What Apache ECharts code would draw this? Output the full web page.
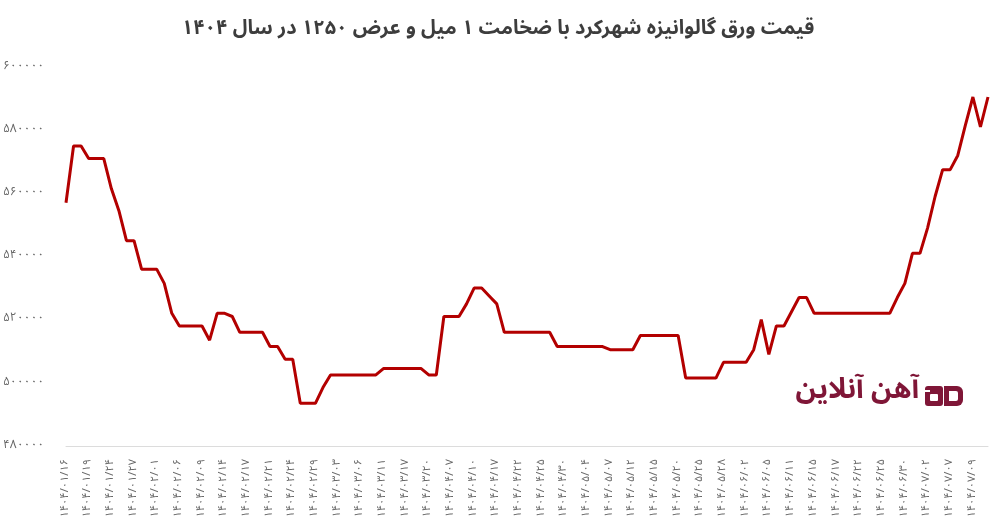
<!DOCTYPE html>
<html>
<head>
<meta charset="utf-8">
<script src="https://cdn.jsdelivr.net/npm/echarts@6/dist/echarts.min.js"></script>
<style>html,body{margin:0;padding:0;background:#fff}#c{width:996px;height:524px}</style>
</head>
<body>
<div id="c"></div>
<script>
const titleText = 'قیمت ورق گالوانیزه شهرکرد با ضخامت ۱ میل و عرض ۱۲۵۰ در سال ۱۴۰۴';
const brandText = 'آهن آنلاین';

const dates = [
'1404/01/16','1404/01/17','1404/01/18','1404/01/19','1404/01/20','1404/01/23',
'1404/01/24','1404/01/25','1404/01/26','1404/01/27','1404/01/30','1404/01/31',
'1404/02/01','1404/02/02','1404/02/03','1404/02/06','1404/02/07','1404/02/08',
'1404/02/09','1404/02/10','1404/02/13','1404/02/14','1404/02/15','1404/02/16',
'1404/02/17','1404/02/18','1404/02/20','1404/02/21','1404/02/22','1404/02/23',
'1404/02/24','1404/02/27','1404/02/28','1404/02/29','1404/02/30','1404/02/31',
'1404/03/03','1404/03/04','1404/03/05','1404/03/06','1404/03/07','1404/03/10',
'1404/03/11','1404/03/12','1404/03/13','1404/03/17','1404/03/18','1404/03/19',
'1404/03/20','1404/03/21','1404/04/01','1404/04/07','1404/04/08','1404/04/09',
'1404/04/10','1404/04/11','1404/04/16','1404/04/17','1404/04/18','1404/04/21',
'1404/04/22','1404/04/23','1404/04/24','1404/04/25','1404/04/28','1404/04/29',
'1404/04/30','1404/04/31','1404/05/01','1404/05/04','1404/05/05','1404/05/06',
'1404/05/07','1404/05/08','1404/05/11','1404/05/12','1404/05/13','1404/05/14',
'1404/05/15','1404/05/18','1404/05/19','1404/05/20','1404/05/21','1404/05/22',
'1404/05/25','1404/05/26','1404/05/27','1404/05/28','1404/05/29','1404/06/01',
'1404/06/02','1404/06/03','1404/06/04','1404/06/05','1404/06/08','1404/06/09',
'1404/06/11','1404/06/12','1404/06/13','1404/06/15','1404/06/16','1404/06/16',
'1404/06/17','1404/06/18','1404/06/19','1404/06/22','1404/06/23','1404/06/24',
'1404/06/25','1404/06/26','1404/06/29','1404/06/30','1404/06/31','1404/07/01',
'1404/07/02','1404/07/05','1404/07/06','1404/07/07','1404/07/08','1404/07/08',
'1404/07/09','1404/07/12','1404/07/13'
];

const prices = [
557000,575000,575000,571000,571000,571000,
561500,554500,545000,545000,536000,536000,
536000,531500,522000,518000,518000,518000,
518000,513500,522000,522000,521000,516000,
516000,516000,516000,511500,511500,507500,
507500,493500,493500,493500,498500,502500,
502500,502500,502500,502500,502500,502500,
504500,504500,504500,504500,504500,504500,
502500,502500,521000,521000,521000,525000,
530000,530000,527500,525000,516000,516000,
516000,516000,516000,516000,516000,511500,
511500,511500,511500,511500,511500,511500,
510500,510500,510500,510500,515000,515000,
515000,515000,515000,515000,501500,501500,
501500,501500,501500,506500,506500,506500,
506500,510500,520000,509000,518000,518000,
522500,527000,527000,522000,522000,522000,
522000,522000,522000,522000,522000,522000,
522000,522000,527000,531500,541000,541000,
549000,559000,567500,567500,572000,581500,
590500,581000,590500
];

const yMin = 480000, yMax = 600000, yStep = 20000;

function toFa(s){ return String(s).replace(/[0-9]/g, d => '۰۱۲۳۴۵۶۷۸۹'[d]); }

const FONT = '"Noto Sans Arabic", "DejaVu Sans", sans-serif';
const brandColor = '#7f1637';

const chart = echarts.init(document.getElementById('c'), null, {renderer:'canvas'});
chart.setOption({
  animation: false,
  backgroundColor: '#fff',
  title: {
    text: titleText, left: 'center', top: 16,
    textStyle: {fontFamily: FONT, fontSize: 20, fontWeight: 'bold', color: '#3d3d3d'}
  },
  grid: {left: 66, right: 8, top: 67, bottom: 78, containLabel: false},
  xAxis: {
    type: 'category', data: dates, boundaryGap: false,
    axisLine: {show: true, lineStyle: {color: '#dcdcdc', width: 1}},
    axisTick: {show: false},
    axisLabel: {interval: 2, rotate: 90, margin: 13, fontSize: 11, color: '#666',
      fontFamily: FONT, formatter: v => toFa(v)},
    splitLine: {show: false}
  },
  yAxis: {
    type: 'value', min: yMin, max: yMax, interval: yStep,
    axisLine: {show: false}, axisTick: {show: false},
    splitLine: {show: false},
    axisLabel: {fontSize: 12, color: '#666', fontFamily: FONT, margin: 63,
      align: 'left', formatter: v => toFa(v)}
  },
  series: [{
    type: 'line', data: prices, showSymbol: false, symbol: 'none',
    lineStyle: {color: '#b30000', width: 3}, itemStyle: {color: '#b30000'}
  }],
  graphic: [
    {type: 'text', right: 77, top: 380, style: {text: brandText, fill: brandColor,
      font: 'bold 28px ' + FONT}},
    {type: 'group', left: 925, top: 386, children: [
      {type: 'rect', shape: {x: 0, y: 0, width: 18, height: 20, r: 3}, style: {fill: brandColor}},
      {type: 'rect', shape: {x: 5, y: 8, width: 8, height: 7, r: 1}, style: {fill: '#fff'}},
      {type: 'rect', shape: {x: 0, y: 4, width: 5, height: 2}, style: {fill: '#fff'}},
      {type: 'rect', shape: {x: 19, y: 0, width: 19, height: 20, r: [0,6,6,0]}, style: {fill: brandColor}},
      {type: 'rect', shape: {x: 24, y: 5, width: 9, height: 10, r: [0,2,2,0]}, style: {fill: '#fff'}}
    ]}
  ]
});
</script>
</body>
</html>
